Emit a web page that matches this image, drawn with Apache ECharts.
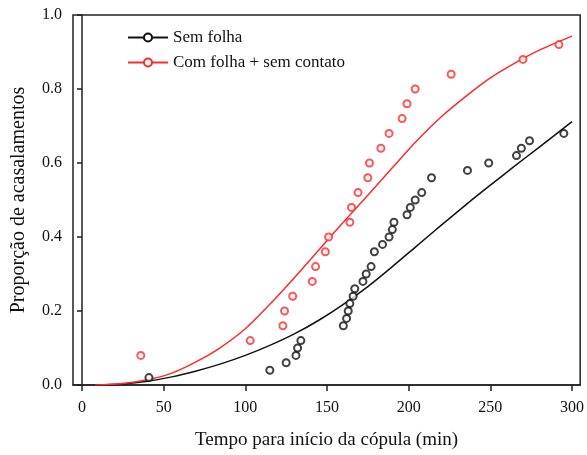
<!DOCTYPE html>
<html>
<head>
<meta charset="utf-8">
<script src="https://cdn.jsdelivr.net/npm/echarts@6/dist/echarts.min.js"></script>
<style>html,body{margin:0;padding:0;background:#fff;}#c{width:587px;height:455px;}</style>
</head>
<body>
<div id="c"></div>
<script>
// Observed data: "Sem folha"
const semX = [41,115,125,131,132,134,160,162,163,164,166,167,172,174,177,179,184,188,190,191,199,201,204,208,214,236,249,266,269,274,295];
const semY = [0.02,0.04,0.06,0.08,0.10,0.12,0.16,0.18,0.20,0.22,0.24,0.26,0.28,0.30,0.32,0.36,0.38,0.40,0.42,0.44,0.46,0.48,0.50,0.52,0.56,0.58,0.60,0.62,0.64,0.66,0.68];
// Observed data: "Com folha + sem contato"
const comX = [36,103,123,124,129,141,143,149,151,164,165,169,175,176,183,188,196,199,204,226,270,292];
const comY = [0.08,0.12,0.16,0.20,0.24,0.28,0.32,0.36,0.40,0.44,0.48,0.52,0.56,0.60,0.64,0.68,0.72,0.76,0.80,0.84,0.88,0.92];
// Fitted curves
const curveX = [8,25,40,55,70,85,100,115,130,145,160,175,190,205,220,235,250,265,280,300];
const semCurveY = [0,0.003,0.01,0.022,0.038,0.057,0.08,0.107,0.138,0.175,0.218,0.266,0.32,0.376,0.432,0.487,0.54,0.592,0.643,0.712];
const comCurveY = [0,0.004,0.014,0.032,0.063,0.102,0.152,0.218,0.29,0.365,0.44,0.513,0.587,0.66,0.725,0.78,0.83,0.87,0.905,0.943];
const xTicks = [0,50,100,150,200,250,300];
const yTicks = [0,0.2,0.4,0.6,0.8,1.0];

const zip = (a,b) => a.map((v,i)=>[v,b[i]]);
const font = 'Liberation Serif, Times New Roman, serif';
const BLACK = '#111111', RED = '#ff2a2a';

const chart = echarts.init(document.getElementById('c'));
chart.setOption({
  animation: false,
  grid: {left: 73, right: 4, top: 15, bottom: 70, show: true, borderColor: '#222', borderWidth: 1.5, backgroundColor: 'transparent'},
  legend: {
    orient: 'vertical', left: 122, top: 24, itemWidth: 40, itemHeight: 10, itemGap: 8,
    data: ['Sem folha', 'Com folha + sem contato'],
    textStyle: {fontFamily: font, fontSize: 17, color: '#111'}
  },
  xAxis: {
    type: 'value', min: -5.5, max: 305,
    name: 'Tempo para início da cópula (min)', nameLocation: 'middle', nameGap: 46,
    nameTextStyle: {fontFamily: font, fontSize: 19, color: '#111'},
    axisLine: {show: true, lineStyle: {color: '#222', width: 1.5}},
    axisTick: {show: true, inside: false, length: 6, lineStyle: {color: '#222', width: 1.5}, customValues: xTicks},
    axisLabel: {fontFamily: font, fontSize: 16, color: '#111', margin: 15, customValues: xTicks},
    splitLine: {show: false}
  },
  yAxis: {
    type: 'value', min: 0, max: 1, interval: 0.2,
    name: 'Proporção de acasalamentos', nameLocation: 'middle', nameGap: 44,
    nameTextStyle: {fontFamily: font, fontSize: 20, color: '#111'},
    axisLine: {show: true, lineStyle: {color: '#222', width: 1.5}},
    axisTick: {show: true, inside: false, length: 5, lineStyle: {color: '#222', width: 1.5}, customValues: yTicks},
    axisLabel: {fontFamily: font, fontSize: 16, color: '#111', margin: 11, formatter: v => v.toFixed(1), customValues: yTicks},
    splitLine: {show: false}
  },
  series: [
    {name: 'Sem folha', type: 'line', data: zip(curveX, semCurveY), smooth: 0.3, showSymbol: false,
     symbol: 'emptyCircle', symbolSize: 7, lineStyle: {color: BLACK, width: 1.5}, itemStyle: {color: BLACK, borderWidth: 1.5}, z: 2},
    {name: 'Com folha + sem contato', type: 'line', data: zip(curveX, comCurveY), smooth: 0.3, showSymbol: false,
     symbol: 'emptyCircle', symbolSize: 7, lineStyle: {color: RED, width: 1.5}, itemStyle: {color: RED, borderWidth: 1.5}, z: 2},
    {name: 'Sem folha', type: 'scatter', data: zip(semX, semY), symbol: 'emptyCircle', symbolSize: 7,
     itemStyle: {color: BLACK, borderColor: BLACK, borderWidth: 1.5}, z: 3},
    {name: 'Com folha + sem contato', type: 'scatter', data: zip(comX, comY), symbol: 'emptyCircle', symbolSize: 7,
     itemStyle: {color: RED, borderColor: RED, borderWidth: 1.5}, z: 3}
  ]
});
</script>
</body>
</html>
